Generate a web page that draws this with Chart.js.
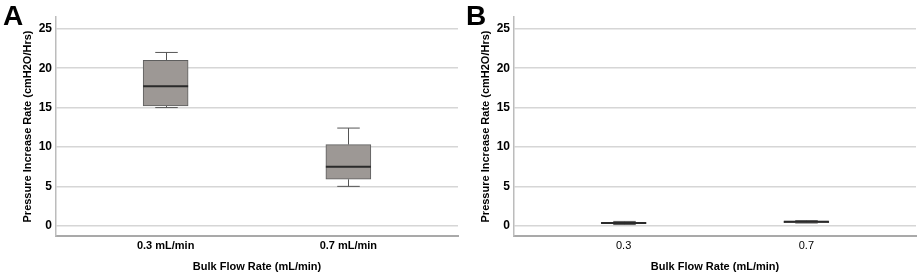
<!DOCTYPE html>
<html lang="en">
  <head>
    <meta charset="UTF-8">
    <title>Pressure Increase Rate</title>
    <script src="https://cdn.jsdelivr.net/npm/chart.js"></script>
    <style>
      body { margin: 0; background: #fff; }
      #wrap { position: relative; width: 920px; height: 279px; display: flex; }
      .panel { position: relative; width: 460px; height: 279px; }
      .letter { position: absolute; top: 2px; font: bold 28px 'Liberation Sans', Arial, sans-serif; line-height: 28px; color: #000; }
    </style>
  </head>

  <body>
    <div id="wrap">
      <div class="panel">
        <canvas id="chartA" width="460" height="279"></canvas>
        <div class="letter" style="left: 3px;">A</div>
      </div>
      <div class="panel">
        <canvas id="chartB" width="460" height="279"></canvas>
        <div class="letter" style="left: 6px;">B</div>
      </div>
    </div>
    <script>
      // panel A
      var groupsA = ['0.3 mL/min', '0.7 mL/min'];
      var minA = [15.0, 5.0];
      var q1A = [15.2, 5.9];
      var medA = [17.7, 7.5];
      var q3A = [21.0, 10.3];
      var maxA = [22.0, 12.4];

      // panel B
      var groupsB = ['0.3', '0.7'];
      var minB = [0.15, 0.35];
      var q1B = [0.25, 0.4];
      var medB = [0.35, 0.5];
      var q3B = [0.45, 0.6];
      var maxB = [0.55, 0.65];

      var yTicks = [0, 5, 10, 15, 20, 25];
      var yTitle = 'Pressure Increase Rate (cmH2O/Hrs)';
      var xTitle = 'Bulk Flow Rate (mL/min)';

      Chart.defaults.font.family = "'Liberation Sans', Arial, sans-serif";
      Chart.defaults.color = '#000';

      // whiskers behind the boxes, medians on top
      var boxWhisker = {
        id: 'boxWhisker',
        beforeDatasetsDraw(chart) {
          var ds = chart.data.datasets[0];
          var meta = chart.getDatasetMeta(0);
          var y = chart.scales.y;
          var ctx = chart.ctx;
          ctx.save();
          ctx.strokeStyle = '#555';
          ctx.lineWidth = 1;
          meta.data.forEach(function (bar, i) {
            var x = Math.round(bar.x) + 0.5;
            var cap = bar.width / 4;
            var yMin = y.getPixelForValue(ds.whiskerMin[i]);
            var yMax = y.getPixelForValue(ds.whiskerMax[i]);
            var yQ1 = y.getPixelForValue(ds.data[i].y[0]);
            var yQ3 = y.getPixelForValue(ds.data[i].y[1]);
            ctx.beginPath();
            ctx.moveTo(x, yQ3); ctx.lineTo(x, yMax);
            ctx.moveTo(x, yQ1); ctx.lineTo(x, yMin);
            ctx.moveTo(x - cap, yMax); ctx.lineTo(x + cap, yMax);
            ctx.moveTo(x - cap, yMin); ctx.lineTo(x + cap, yMin);
            ctx.stroke();
          });
          ctx.restore();
        },
        afterDatasetsDraw(chart) {
          var ds = chart.data.datasets[0];
          var meta = chart.getDatasetMeta(0);
          var y = chart.scales.y;
          var ctx = chart.ctx;
          ctx.save();
          ctx.strokeStyle = '#2a2a2a';
          ctx.lineWidth = 2;
          meta.data.forEach(function (bar, i) {
            var yMed = y.getPixelForValue(ds.median[i]);
            ctx.beginPath();
            ctx.moveTo(bar.x - bar.width / 2, yMed);
            ctx.lineTo(bar.x + bar.width / 2, yMed);
            ctx.stroke();
          });
          ctx.restore();
        }
      };

      function makeChart(id, groups, mins, q1s, meds, q3s, maxs, opts) {
        var data = groups.map(function (g, i) { return { x: i, y: [q1s[i], q3s[i]] }; });
        return new Chart(id, {
          type: 'bar',
          data: {
            datasets: [{
              data: data,
              whiskerMin: mins,
              whiskerMax: maxs,
              median: meds,
              backgroundColor: '#9d9895',
              borderColor: '#5e5e5e',
              borderWidth: 1,
              borderSkipped: false,
              barThickness: 45
            }]
          },
          options: {
            responsive: false,
            animation: false,
            layout: { padding: { top: 17, right: opts.right, left: 0, bottom: 0 } },
            plugins: {
              legend: { display: false },
              tooltip: { enabled: false }
            },
            scales: {
              x: {
                type: 'linear',
                offset: false,
                min: -0.6,
                max: 1.6,
                afterBuildTicks: function (scale) {
                  scale.ticks = groups.map(function (g, i) { return { value: i }; });
                },
                afterFit: function (scale) { scale.height = 43; },
                grid: { display: false, drawTicks: false },
                border: { display: true, color: '#a9a9a9', width: 2 },
                ticks: {
                  padding: 3,
                  maxRotation: 0,
                  font: { size: 11, weight: opts.xTickWeight },
                  callback: function (v) { return groups[v]; }
                },
                title: {
                  display: true,
                  text: xTitle,
                  font: { size: 11, weight: 'bold' },
                  padding: { top: 0, bottom: 5 }
                }
              },
              y: {
                min: -1.3,
                max: 26.5,
                afterBuildTicks: function (scale) {
                  scale.ticks = yTicks.map(function (v) { return { value: v }; });
                },
                afterFit: function (scale) { scale.width = opts.yWidth; },
                grid: { color: '#d6d6d6', lineWidth: 1.5, drawTicks: false },
                border: { display: true, color: '#bcbcbc', width: 1.5 },
                ticks: {
                  padding: 4,
                  font: { size: 12, weight: 'bold' }
                },
                title: {
                  display: true,
                  text: yTitle,
                  font: { size: 11, weight: 'bold' },
                  padding: { top: opts.titlePad, bottom: 0 }
                }
              }
            }
          },
          plugins: [boxWhisker]
        });
      }

      makeChart('chartA', groupsA, minA, q1A, medA, q3A, maxA,
        { right: 2, yWidth: 56, titlePad: 21, xTickWeight: 'bold' });
      makeChart('chartB', groupsB, minB, q1B, medB, q3B, maxB,
        { right: 4, yWidth: 54, titlePad: 19, xTickWeight: 'normal' });
    </script>
  </body>
</html>
